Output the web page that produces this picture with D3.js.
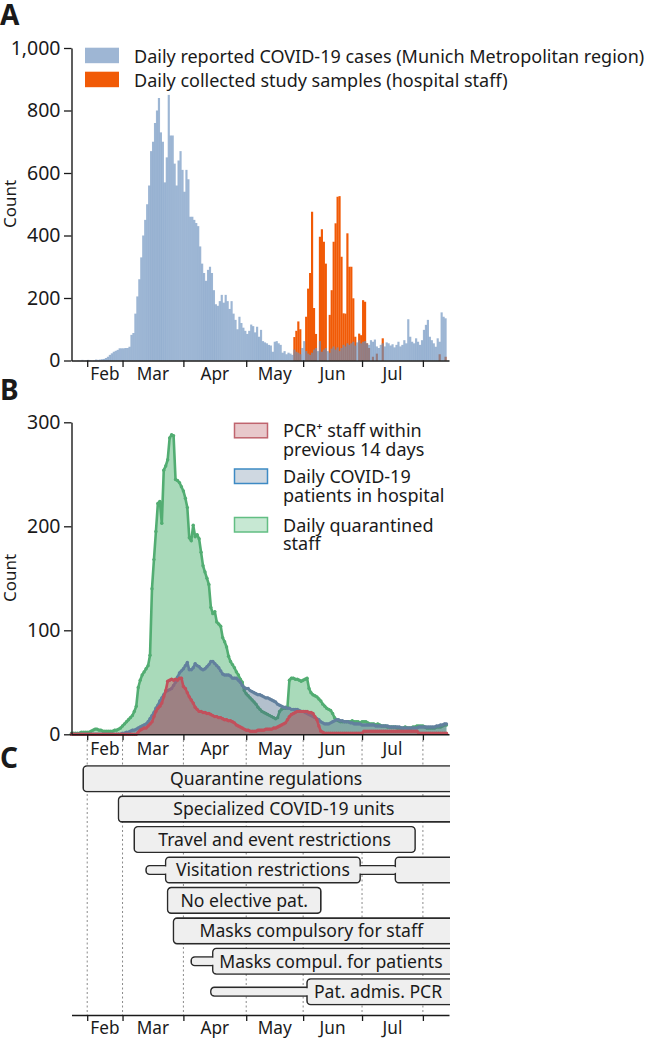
<!DOCTYPE html>
<html><head><meta charset="utf-8">
<script src="https://cdn.jsdelivr.net/npm/d3@7"></script>
<style>
body{margin:0;background:#fff;}
text{font-family:"Noto Sans",sans-serif;fill:#1a1a1a;}
</style></head><body>
<svg id="c" width="646" height="1038"></svg>
<script>
// ---------------- DATA ----------------
const seriesStart = "2020-02-04";          // first day of all daily series
const sampleStart = "2020-05-26";          // first day of study sample series
// Panel A: daily reported COVID-19 cases (Munich Metropolitan region)
const casesMunich = [
 0,0,0,1,0,2,0,1,2,1,
 0,1,3,2,3,4,5,8,12,18,
 23,28,31,34,39,39,39,40,40,44,
 82,88,150,205,260,330,400,450,500,560,
 670,700,760,800,840,730,700,570,650,850,
 720,720,630,560,640,670,610,540,610,580,
 460,460,450,440,430,365,310,280,255,290,
 300,280,225,180,175,190,210,185,210,190,
 165,190,150,130,100,140,120,105,95,85,
 95,115,110,90,108,76,98,62,58,55,
 50,48,28,60,62,55,50,25,30,20,
 25,22,18,35,28,25,20,40,62,30,
 22,18,25,35,40,30,62,28,35,40,
 30,25,38,45,35,42,30,40,50,45,
 55,50,55,60,48,58,65,55,60,62,
 55,50,65,60,67,45,40,50,55,45,
 58,55,48,52,42,50,60,45,50,65,
 55,132,76,60,55,71,60,50,65,98,
 114,130,76,65,55,44,71,60,154,140,
 135,0];
// Panel A: daily collected study samples (hospital staff)
const studySamples = [
 0,75,95,125,100,0,0,140,
 230,280,476,168,85,0,396,420,380,310,
 0,146,225,380,439,524,526,332,151,150,
 407,300,300,199,76,0,86,81,193,188,
 55,40,0,12,0,22,0,0,71,0,
 0,0,0,0,0,0,0,0,0,0,
 0,0,0,0,0,0,0,0,0,0,
 0,0,0,0,0,0,0,20,0,0,12];
// Panel B series
const pcrStaff = [
 0,0,0,0,0,0,0,0,0,0,
 0,0,0,0,0,0,0,0,0,0,
 0,0,0,0,0,0,0,0,0,0,
 0,0,0,0,2,4,5,6,6,8,
 10,12,17,22,25,27,30,36,42,51,
 52,53,52,53,52,54,54,46,44,40,
 36,33,30,26,24,22,22,21,21,20,
 20,19,18,17,17,16,16,15,14,14,
 13,13,12,11,9,8,7,6,5,4,
 4,3,3,3,3,4,4,4,4,5,
 5,5,5,6,6,7,8,9,10,11,
 14,17,19,20,21,22,22,22,22,22,
 22,21,21,20,17,14,8,3,2,1,
 1,1,1,1,1,1,1,1,1,1,
 1,1,1,1,1,1,1,1,1,3,
 3,3,3,3,3,3,3,3,3,3,
 3,3,3,3,3,3,3,3,3,3,
 3,3,3,3,3,3,3,1,1,1,
 1,1,1,1,1,1,1,1,1,1,
 1,1];
const patients = [
 0,0,0,0,0,0,0,0,0,0,
 0,0,0,0,0,0,0,0,0,0,
 0,0,0,0,0,0,1,1,2,2,
 3,4,4,5,6,7,8,9,10,12,
 15,18,21,25,28,32,35,38,41,42,
 43,44,47,50,55,59,61,63,66,69,
 62,62,64,68,66,65,63,62,63,65,
 67,70,70,68,66,64,61,58,57,57,
 57,56,54,54,54,52,50,47,45,44,
 44,42,41,40,39,38,38,37,36,35,
 35,34,33,32,31,29,28,27,26,26,
 25,25,24,24,24,24,23,22,22,21,
 20,19,18,17,16,15,14,12,11,10,
 10,10,11,12,13,14,14,13,13,12,
 12,12,11,11,10,10,10,10,9,9,
 9,9,9,9,9,8,8,8,8,8,
 8,8,7,7,7,7,7,7,6,6,
 6,6,6,6,6,6,6,7,7,7,
 7,7,7,7,7,7,8,8,9,9,
 10,10];
const quarantined = [
 1,1,1,1,1,2,2,2,2,2,
 3,4,5,5,4,4,3,3,3,3,
 3,3,4,4,5,6,8,10,12,14,
 16,18,22,27,45,52,57,60,63,66,
 76,140,168,195,222,224,203,254,258,264,
 285,288,287,245,244,242,238,234,227,218,
 189,186,201,190,192,188,175,162,156,150,
 144,122,116,118,108,106,104,93,89,84,
 75,70,67,64,60,57,53,50,42,39,
 37,35,33,31,29,26,24,22,21,20,
 19,18,17,16,15,16,22,24,25,25,
 26,52,54,54,53,53,52,51,52,53,
 54,44,40,38,37,36,34,32,29,27,
 25,24,23,20,16,14,13,12,12,12,
 12,12,12,13,12,12,12,11,12,12,
 12,11,10,10,10,9,10,9,8,8,
 8,7,7,7,7,7,6,6,6,6,
 7,6,6,6,7,7,8,8,8,8,
 7,6,6,6,6,6,7,7,7,8,
 9,9];
// axes
const xDomain = ["2020-02-04", "2020-08-14"];
const monthTicks = ["2020-02-12","2020-03-01","2020-04-01","2020-05-03","2020-06-01","2020-07-01","2020-08-01"];
const monthLabels = ["Feb","Mar","Apr","May","Jun","Jul"];
const yTicksA = [0,200,400,600,800,1000];
const yTicksB = [0,100,200,300];
// Panel C: measures
const measureNames = ["Quarantine regulations","Specialized COVID-19 units","Travel and event restrictions",
 "Visitation restrictions","No elective pat.","Masks compulsory for staff","Masks compul. for patients","Pat. admis. PCR"];
const measureFull = [
 [["2020-02-10","2020-09-30"]],
 [["2020-02-28","2020-09-30"]],
 [["2020-03-07","2020-07-28"]],
 [["2020-03-23","2020-06-30"],["2020-07-18","2020-09-30"]],
 [["2020-03-24","2020-06-10"]],
 [["2020-03-27","2020-09-30"]],
 [["2020-04-16","2020-09-30"]],
 [["2020-06-03","2020-09-30"]]];
const measurePartial = [[],[],[],[["2020-03-13","2020-07-19"]],[],[],[["2020-04-05","2020-09-30"]],[["2020-04-15","2020-09-30"]]];

// ---------------- DRAW ----------------
const svg = d3.select("#c");
const parse = d3.utcParse("%Y-%m-%d");
const DAY = 864e5;
const dayAt = (s, i) => new Date(parse(s).getTime() + i*DAY);
const x = d3.scaleUtc().domain([parse(xDomain[0]), new Date(parse(xDomain[1]).getTime()+0.3*DAY)]).range([71.5, 449]);
const AX = "#1a1a1a";
const TICKFONT = 19.5, MONTHFONT = 17.2, LEGFONT = 18;

function monthAxis(g, y, labelDy, tickLen){
  const ax = d3.axisBottom(x).tickValues(monthTicks.map(parse)).tickFormat("").tickSize(tickLen).tickSizeOuter(0);
  const a = g.append("g").attr("transform",`translate(0,${y})`).call(ax);
  a.select(".domain").attr("stroke",AX).attr("stroke-width",1.4);
  a.selectAll(".tick line").attr("stroke",AX).attr("stroke-width",1.3);
  g.append("g").selectAll("text").data(monthLabels).join("text")
    .attr("x",(m,i)=> (x(parse(monthTicks[i]))+x(parse(monthTicks[i+1])))/2)
    .attr("y", y+labelDy).attr("text-anchor","middle").attr("font-size",MONTHFONT).text(m=>m);
}
function yAxis(g, scale, ticks, fmt){
  const a = g.append("g").attr("transform","translate(71.5,0)")
    .call(d3.axisLeft(scale).tickValues(ticks).tickFormat(fmt).tickSize(7.5).tickPadding(3.5).tickSizeOuter(0));
  a.select(".domain").attr("stroke",AX).attr("stroke-width",1.4);
  a.selectAll(".tick line").attr("stroke",AX).attr("stroke-width",1.3);
  a.selectAll(".tick text").attr("font-size",TICKFONT).attr("font-family","Noto Sans").attr("fill","#1a1a1a");
}
function panelLabel(t, y){
  svg.append("text").attr("x",0).attr("y",y).attr("font-size",28).attr("font-weight","bold").text(t);
}

// ===== Panel A =====
const yA = d3.scaleLinear().domain([0,1000]).range([360.5,48]);
const gA = svg.append("g");
gA.append("g").selectAll("rect").data(studySamples).join("rect")
  .attr("x",(v,i)=>x(dayAt(sampleStart,i)))
  .attr("width",(v,i)=>x(dayAt(sampleStart,i+1))-x(dayAt(sampleStart,i))+0.2)
  .attr("y",v=>yA(v)).attr("height",v=>yA(0)-yA(v)).attr("fill","#f15a06");
gA.append("g").selectAll("rect").data(casesMunich).join("rect")
  .attr("x",(v,i)=>x(dayAt(seriesStart,i)))
  .attr("width",(v,i)=>x(dayAt(seriesStart,i+1))-x(dayAt(seriesStart,i))+0.2)
  .attr("y",v=>yA(v)).attr("height",v=>yA(0)-yA(v)).attr("fill","rgb(104,143,189)").attr("fill-opacity",0.65);
yAxis(gA, yA, yTicksA, d3.format(","));
monthAxis(gA, 360.5, 19.5, 6.5);
gA.append("text").attr("transform","translate(16,204) rotate(-90)").attr("text-anchor","middle").attr("font-size",17).text("Count");
// legend A
const legA = [["Daily reported COVID-19 cases (Munich Metropolitan region)","#9eb6d4"],["Daily collected study samples (hospital staff)","#f15a06"]];
legA.forEach((d,i)=>{
  gA.append("rect").attr("x",85).attr("y",47.7+i*24).attr("width",34).attr("height",15.5).attr("fill",d[1]);
  gA.append("text").attr("x",134).attr("y",62.5+i*24).attr("font-size",LEGFONT).text(d[0]);
});
panelLabel("A",25);

// ===== Panel B =====
const yB = d3.scaleLinear().domain([0,300]).range([734.3,422.3]);
const gB = svg.append("g");
const seriesB = [
  {v:quarantined, fill:"rgba(83,181,117,0.5)", stroke:"#52ad72"},
  {v:patients, fill:"rgba(75,105,135,0.42)", stroke:"#62809e"},
  {v:pcrStaff, fill:"rgba(190,80,90,0.45)", stroke:"#c2505c"}];
seriesB.forEach(s=>{
  const area = d3.area().x((v,i)=>x(dayAt(seriesStart,i))).y0(yB(0)).y1(v=>yB(v));
  const line = d3.line().x((v,i)=>x(dayAt(seriesStart,i))).y(v=>yB(v));
  gB.append("path").datum(s.v).attr("d",area).attr("fill",s.fill);
  gB.append("path").datum(s.v).attr("d",line).attr("fill","none").attr("stroke",s.stroke).attr("stroke-width",2.6).attr("stroke-linejoin","round");
  gB.append("g").selectAll("circle").data(s.v).join("circle")
    .attr("cx",(v,i)=>x(dayAt(seriesStart,i))).attr("cy",v=>yB(v)).attr("r",1.7).attr("fill",s.stroke);
});
yAxis(gB, yB, yTicksB, d3.format("d"));
// dotted guide lines from panel B axis down to panel C axis
svg.append("g").selectAll("line").data(monthTicks).join("line")
  .attr("x1",d=>x(parse(d))).attr("x2",d=>x(parse(d))).attr("y1",740).attr("y2",1015)
  .attr("stroke","#8a8a8a").attr("stroke-width",1).attr("stroke-dasharray","2,2.5");
monthAxis(gB, 734.3, 20.5, 6);
gB.append("text").attr("transform","translate(16,578) rotate(-90)").attr("text-anchor","middle").attr("font-size",17).text("Count");
// legend B
const legB = [
  {l1:"PCR\u207A staff within", l2:"previous 14 days", fill:"#e8c8cb", stroke:"#c0646e", y:423.3},
  {l1:"Daily COVID-19", l2:"patients in hospital", fill:"#cfd8e1", stroke:"#3d8ac4", y:469},
  {l1:"Daily quarantined", l2:"staff", fill:"#c7e8d3", stroke:"#62be83", y:517.5}];
legB.forEach(d=>{
  gB.append("rect").attr("x",234.5).attr("y",d.y).attr("width",33).attr("height",14.5)
    .attr("fill",d.fill).attr("stroke",d.stroke).attr("stroke-width",1.5);
  gB.append("text").attr("x",283).attr("y",d.y+14).attr("font-size",LEGFONT).text(d.l1);
  gB.append("text").attr("x",283).attr("y",d.y+32.5).attr("font-size",LEGFONT).text(d.l2);
});
panelLabel("B",400);

// ===== Panel C =====
const gC = svg.append("g");
svg.append("defs").append("clipPath").attr("id","clipC").append("rect").attr("x",0).attr("y",740).attr("width",450).attr("height",280);
const yC = d3.scaleBand().domain(measureNames).range([763.5,1006.9]).paddingInner(0.162).paddingOuter(0.081);
const shapes = [];
measureNames.forEach((n,i)=>{
  const y0 = yC(n), h = yC.bandwidth(), cy = y0+h/2;
  measurePartial[i].forEach(s=> shapes.push({x0:x(parse(s[0])), x1:x(parse(s[1])), y:cy-4.3, h:8.6}));
  measureFull[i].forEach(s=> shapes.push({x0:x(parse(s[0])), x1:x(parse(s[1])), y:y0, h:h}));
});
const gBoxes = gC.append("g").attr("clip-path","url(#clipC)");
gBoxes.append("g").selectAll("rect").data(shapes).join("rect")
  .attr("x",d=>d.x0).attr("y",d=>d.y).attr("width",d=>d.x1-d.x0).attr("height",d=>d.h)
  .attr("rx",3.5).attr("fill","#efefef").attr("stroke","#2a2a2a").attr("stroke-width",1.6);
gBoxes.append("g").selectAll("rect").data(shapes).join("rect")
  .attr("x",d=>d.x0+0.8).attr("y",d=>d.y+0.8).attr("width",d=>d.x1-d.x0-1.6).attr("height",d=>d.h-1.6)
  .attr("rx",3).attr("fill","#efefef");
measureNames.forEach((n,i)=>{
  const s = measureFull[i][0];
  const a = Math.max(x(parse(s[0])),71.5), b = Math.min(x(parse(s[1])),449);
  gC.append("text").attr("x",(a+b)/2).attr("y",yC(n)+yC.bandwidth()/2).attr("dy","0.36em")
    .attr("text-anchor","middle").attr("font-size",17.6).text(n);
});
monthAxis(gC, 1015, 18.5, 6);
panelLabel("C",768);
</script>
</body></html>
